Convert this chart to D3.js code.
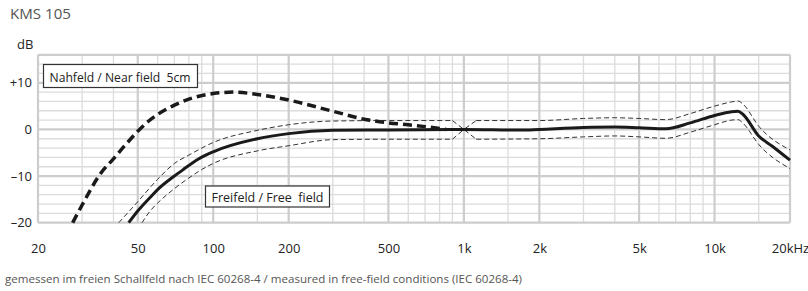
<!DOCTYPE html>
<html>
<head>
<meta charset="utf-8">
<script src="https://cdn.jsdelivr.net/npm/d3@7"></script>
<style>
  body { margin: 0; background: #fff; }
  svg text { font-family: 'Open Sans', 'Noto Sans', sans-serif; }
</style>
</head>
<body>
<svg id="chart" width="808" height="291"></svg>
<script>
// axis values
const xMajor = [20, 50, 100, 200, 500, 1000, 2000, 5000, 10000, 20000];
const xLabels = ["20", "50", "100", "200", "500", "1k", "2k", "5k", "10k", "20kHz"];
const xMinor = [30, 40, 60, 70, 80, 90, 150, 300, 400, 600, 700, 800, 900, 1500,
                3000, 4000, 6000, 7000, 8000, 9000, 15000];
const yMajor = [-20, -10, 0, 10];
const yLabels = ["\u201320", "\u201310", "0", "+10"];
const yMinor = [-18, -16, -14, -12, -8, -6, -4, -2, 2, 4, 6, 8, 12, 14, 16];

// response curves, [Hz, dB]
const freeField = [[46, -20], [50, -17.5], [56, -14.6], [60, -12.9], [70, -10], [76, -8.6],
  [87, -6.4], [100, -4.8], [150, -2], [200, -0.9], [300, -0.2], [500, -0.1], [1000, 0],
  [1700, -0.15], [2000, 0], [3000, 0.4], [4000, 0.5], [5000, 0.35], [6400, 0.15],
  [8000, 1.4], [10000, 3.0], [11700, 3.8], [12400, 3.9], [13000, 3.2], [15000, -1.4],
  [17000, -3.6], [20000, -6.6]];

const tolUpper = [[42, -20], [50, -15.5], [60, -10.7], [70, -7.3], [80, -5.5], [100, -2.8],
  [150, -0.2], [200, 1.0], [300, 1.8], [500, 1.9], [900, 1.9], [1000, 0], [1120, 1.9],
  [2000, 1.9], [3000, 2.35], [4000, 2.5], [5000, 2.35], [6400, 2.1], [8000, 3.4],
  [10000, 5.0], [11700, 5.9], [12400, 6.1], [13000, 5.4], [15000, 0.7], [20000, -4.4]];

const tolLower = [[52, -20], [56, -17.5], [60, -15.8], [70, -12.7], [80, -10.4], [90, -8.6],
  [100, -7.3], [150, -4.6], [200, -3.5], [300, -2.2], [500, -2.1], [900, -2.1], [1000, 0],
  [1120, -2.1], [2000, -2.0], [3000, -1.6], [4000, -1.4], [5000, -1.6], [6400, -1.9],
  [8000, -0.6], [10000, 1.0], [11700, 2.0], [12400, 2.1], [13000, 1.3], [15000, -3.2],
  [20000, -8.4]];

const nearField = [[27.5, -20], [30, -16.2], [35.6, -9.4], [40, -6.3], [45, -3.1],
  [50, -0.4], [55, 1.7], [60, 3.2], [70, 5.2], [80, 6.5], [100, 7.7], [120, 8.0],
  [150, 7.5], [200, 6.3], [300, 3.9], [400, 2.2], [500, 1.4], [600, 1.0], [700, 0.6],
  [800, 0.2], [850, 0]];

const svg = d3.select("#chart");

const x = d3.scaleLog().domain([20, 20000]).range([38, 790]);
const y = d3.scaleLinear().domain([-20, 16]).range([222.7, 54.8]);

// grid
const grid = svg.append("g");
grid.selectAll(".vmin").data(xMinor).enter().append("line")
  .attr("x1", d => x(d)).attr("x2", d => x(d))
  .attr("y1", y(-20)).attr("y2", y(16))
  .attr("stroke", "#dcdcdc").attr("stroke-width", 1.3);
grid.selectAll(".hmin").data(yMinor).enter().append("line")
  .attr("x1", x(20)).attr("x2", x(20000))
  .attr("y1", d => y(d)).attr("y2", d => y(d))
  .attr("stroke", "#dcdcdc").attr("stroke-width", 1.3);
grid.selectAll(".vmaj").data(xMajor).enter().append("line")
  .attr("x1", d => x(d)).attr("x2", d => x(d))
  .attr("y1", y(-20)).attr("y2", y(16))
  .attr("stroke", "#cdcdcd").attr("stroke-width", 2.2);
grid.selectAll(".hmaj").data(yMajor.concat([16])).enter().append("line")
  .attr("x1", x(20)).attr("x2", x(20000))
  .attr("y1", d => y(d)).attr("y2", d => y(d))
  .attr("stroke", "#cdcdcd").attr("stroke-width", 2.2);

// axes labels
const xAxis = svg.append("g")
  .attr("transform", "translate(0," + y(-20) + ")")
  .call(d3.axisBottom(x).tickValues(xMajor).tickFormat((d, i) => xLabels[i]).tickSize(0).tickPadding(21))
  .call(g => {
    g.select(".domain").remove()
    g.selectAll("text").attr("font-size", 13).attr("fill", "#222")
      .attr("font-family", "'Open Sans', sans-serif")
  });
const yAxis = svg.append("g")
  .attr("transform", "translate(" + x(20) + ",0)")
  .call(d3.axisLeft(y).tickValues(yMajor).tickFormat((d, i) => yLabels[i]).tickSize(0).tickPadding(6))
  .call(g => {
    g.select(".domain").remove()
    g.selectAll("text").attr("font-size", 13).attr("fill", "#222")
      .attr("font-family", "'Open Sans', sans-serif")
  });

// curves
const smooth = d3.line().x(d => x(d[0])).y(d => y(d[1])).curve(d3.curveMonotoneX);
const straight = d3.line().x(d => x(d[0])).y(d => y(d[1]));

function tolPath(data) {
  // the band closes to 0 dB at 1 kHz with straight flanks
  [data.filter(d => d[0] <= 900), data.filter(d => d[0] >= 1120)].forEach(part => {
    svg.append("path").attr("d", smooth(part))
      .attr("fill", "none").attr("stroke", "#333").attr("stroke-width", 1)
      .attr("stroke-dasharray", "5,3");
  });
  svg.append("path").attr("d", straight(data.filter(d => d[0] >= 900 && d[0] <= 1120)))
    .attr("fill", "none").attr("stroke", "#333").attr("stroke-width", 1)
    .attr("stroke-dasharray", "5,3");
}
tolPath(tolUpper);
tolPath(tolLower);

svg.append("path").attr("d", smooth(freeField))
  .attr("fill", "none").attr("stroke", "#1a1a1a").attr("stroke-width", 3);

svg.append("path").attr("d", smooth(nearField))
  .attr("fill", "none").attr("stroke", "#1a1a1a").attr("stroke-width", 3.5)
  .attr("stroke-dasharray", "9,5");

// legend boxes
function box(bx, by, bw, bh, label, tw) {
  svg.append("rect").attr("x", bx).attr("y", by).attr("width", bw).attr("height", bh)
    .attr("fill", "#fff").attr("stroke", "#333").attr("stroke-width", 1.2);
  svg.append("text").attr("x", bx + 6).attr("y", by + bh - 5.5)
    .attr("font-size", 13).attr("fill", "#222")
    .style("white-space", "pre")
    .attr("textLength", tw).attr("lengthAdjust", "spacingAndGlyphs")
    .text(label);
}
box(43.5, 64.5, 154, 23, "Nahfeld / Near field  5cm", 141);
box(205.5, 186, 124, 21, "Freifeld / Free  field", 112);

// titles
svg.append("text").attr("x", 10).attr("y", 18.5).attr("font-size", 15).attr("fill", "#555")
  .attr("textLength", 61).attr("lengthAdjust", "spacingAndGlyphs").text("KMS 105");
svg.append("text").attr("x", 17).attr("y", 49).attr("font-size", 13).attr("fill", "#222").text("dB");
svg.append("text").attr("x", 5).attr("y", 283).attr("font-size", 10).attr("fill", "#555")
  .attr("textLength", 517).attr("lengthAdjust", "spacingAndGlyphs")
  .text("gemessen im freien Schallfeld nach IEC 60268-4 / measured in free-field conditions (IEC 60268-4)");
</script>
</body>
</html>
